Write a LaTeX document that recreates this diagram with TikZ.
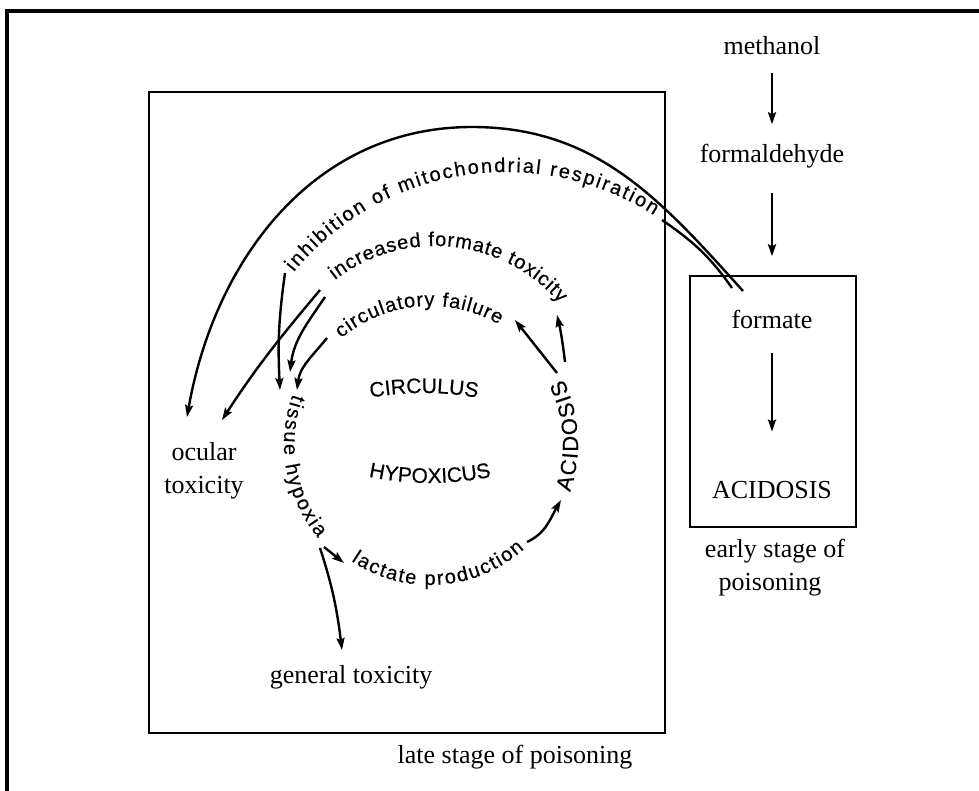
\documentclass[tikz,border=0pt]{standalone}
\usepackage{fontspec}
\setmainfont{Liberation Serif}
\newfontfamily\letfont[FakeBold=0.4]{Liberation Sans}
\usetikzlibrary{arrows.meta,decorations.text}
\newcommand\lettsmall{\letfont\fontsize{10}{11}\selectfont}
\newcommand\lettbig{\letfont\fontsize{11}{12}\selectfont}
\newcommand\lettmid{\letfont\fontsize{10.5}{12}\selectfont}
\begin{document}
\begin{tikzpicture}[x=0.5pt,y=0.5pt,
  lbl/.style={font=\fontsize{13}{15}\selectfont, inner sep=0pt, anchor=base},
  arr/.style={line width=1.2pt, -{Stealth[length=6pt,width=4pt,inset=1pt]}},
  con/.style={line width=1.2pt},
  boxframe/.style={draw, line width=1.4pt, inner sep=0pt, outer sep=0pt, rectangle},
  arctext/.style={decorate, decoration={text along path, text align={fit to path}, text={#1}}},
  midtext/.style={decorate, decoration={text along path, text align=center, text={#1}}}
]
\useasboundingbox (0,-791) rectangle (979,0);
% outer frame (top and left edges only)
\draw[line width=2pt] (7,-795) -- (7,-11) -- (985,-11);

% boxes
\node[boxframe, minimum width=258pt, minimum height=320.5pt] (latebox) at (407,-412.5) {};
\node[boxframe, minimum width=83pt, minimum height=125.5pt] (earlybox) at (773,-401.5) {};

% right column
\node[lbl] (methanol) at (772,-55) {methanol};
\node[lbl] (formaldehyde) at (772,-163) {formaldehyde};
\node[lbl] (formate) at (772,-328) {formate};
\node[lbl] (acidR) at (772,-498) {ACIDOSIS};
\node[lbl] (early) at (775,-557) {early stage of};
\node[lbl] (poisonR) at (770,-590) {poisoning};
\draw[arr, shorten <=8.5pt, shorten >=10pt] (methanol) -- (formaldehyde);
\draw[arr, shorten <=12pt, shorten >=26.5pt] (formaldehyde) -- (formate);
\draw[arr, shorten <=12pt, shorten >=24.4pt] (formate) -- (acidR);

% left labels
\node[lbl] (late) at (515,-763) {late stage of poisoning};
\node[lbl] (general) at (351,-683) {general toxicity};
\node[lbl] (ocular) at (204,-460) {ocular};
\node[lbl] (oculartox) at (204,-493) {toxicity};

% circle texts
\coordinate (O) at (430,-444);
\path[arctext={|\lettsmall|tissue hypoxia}] (O) ++(160:146) arc[start angle=160, end angle=220, radius=146];
\path[arctext={|\lettsmall|lactate production}] (O) ++(236:141) arc[start angle=236, end angle=312, radius=141];
\path[arctext={|\lettbig|ACIDOSIS}] (O) ++(-19:148) arc[start angle=-19, end angle=26, radius=148];
\path[arctext={|\lettsmall|circulatory failure}] (O) ++(130:138) arc[start angle=130, end angle=60, radius=138];
\coordinate (Oi) at (435,-410);
\path[arctext={|\lettsmall|increased formate toxicity}] (Oi) ++(127.6:164) arc[start angle=127.6, end angle=40.6, radius=164];
\coordinate (Oh) at (506,-447);
\path[arctext={|\lettsmall|inhibition of mitochondrial respiration}] (Oh) ++(140.5:275) arc[start angle=140.5, end angle=57.5, radius=275];

% centre words
\path[midtext={|\lettmid|CIRCULUS}] (424,-698) ++(102:305) arc[start angle=102, end angle=78, radius=305];
\path[midtext={|\lettmid|HYPOXICUS}] (430,-183) ++(256:300) arc[start angle=256, end angle=284, radius=300];

% big arc: formate -> ocular toxicity
\coordinate (bigS) at (743,-291);
\coordinate (bigP) at (472,-127);
\coordinate (bigE) at (187,-417);
\draw[arr] (bigS) to[out=132,in=0] (bigP) to[out=180,in=80] (bigE);

% inhibition connector: formate -> text -> tissue hypoxia
\coordinate (inhA) at (732,-288);
\coordinate (inhB) at (662,-220);
\draw[con] (inhA) to[out=125,in=-34.5] (inhB);
\coordinate (inhC) at (285,-273);
\coordinate (tisTip1) at (280,-390);
\draw[arr] (inhC) to[out=262,in=93] (tisTip1);

% increased formate toxicity -> ocular toxicity, tissue hypoxia
\coordinate (incA) at (320,-290);
\coordinate (ocTip2) at (222,-420);
\draw[arr] (incA) to[out=230,in=57] (ocTip2);
\coordinate (incB) at (325,-297);
\coordinate (tisTip2) at (290,-372);
\draw[arr] (incB) to[out=236,in=83] (tisTip2);

% circulatory failure -> tissue hypoxia
\coordinate (cirA) at (327,-338);
\coordinate (tisTip3) at (297,-390);
\draw[arr] (cirA) to[out=231,in=83] (tisTip3);

% ACIDOSIS -> circulatory failure, increased formate toxicity
\coordinate (acA) at (557,-373);
\coordinate (cfTip) at (515,-320);
\draw[arr] (acA) -- (cfTip);
\coordinate (acB) at (565,-362);
\coordinate (inTip) at (557,-315);
\draw[arr] (acB) to[out=97,in=-77] (inTip);

% lactate production -> ACIDOSIS
\coordinate (laA) at (527,-542);
\coordinate (acTip) at (561,-500);
\draw[arr] (laA) to[out=25,in=240] (acTip);

% tissue hypoxia -> lactate production, general toxicity
\coordinate (thA) at (324,-547);
\coordinate (laTip) at (344,-563);
\draw[arr] (thA) -- (laTip);
\coordinate (thB) at (320,-548);
\coordinate (genTip) at (342,-650);
\draw[arr] (thB) to[out=-72,in=97] (genTip);
\end{tikzpicture}
\end{document}
